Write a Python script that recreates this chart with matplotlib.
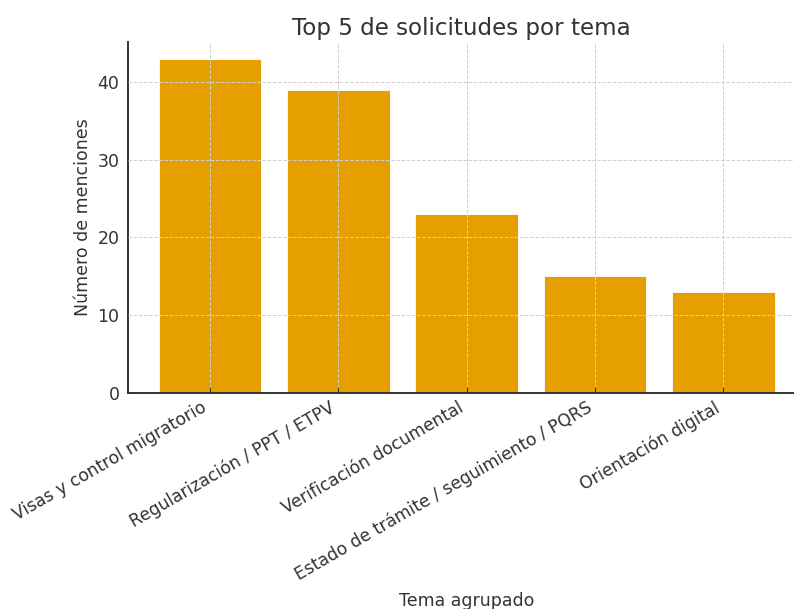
import matplotlib
matplotlib.use('Agg')
import matplotlib.pyplot as plt

temas = ['Visas y control migratorio', 'Regularización / PPT / ETPV',
         'Verificación documental', 'Estado de trámite / seguimiento / PQRS',
         'Orientación digital']
menciones = [43, 39, 23, 15, 13]

plt.rcParams['font.family'] = 'DejaVu Sans'
gris = '#333333'

fig = plt.figure(figsize=(7.94, 6.09), dpi=100)
ax = fig.add_axes([0.161, 0.355, 0.839, 0.576])

pos = list(range(len(temas)))
ax.bar(pos, menciones, width=0.8, color='#E69F00', edgecolor='white', linewidth=0.6, zorder=1)

ax.set_xlim(-0.64, 4.55)
ax.set_ylim(0, 45.15)
ax.set_yticks([0, 10, 20, 30, 40])
ax.set_xticks(pos)
ax.set_xticklabels(temas, rotation=30, ha='right', fontsize=12.3, color=gris)
ax.tick_params(axis='y', labelsize=12.5, labelcolor=gris, length=0, pad=6)
ax.tick_params(axis='x', direction='in', length=4, color=gris, pad=4)

ax.grid(True, linestyle='--', color='#d0d0d0', linewidth=0.7, zorder=2)
ax.set_axisbelow(False)

for lado in ['top', 'right']:
    ax.spines[lado].set_visible(False)
for lado in ['left', 'bottom']:
    ax.spines[lado].set_color(gris)
    ax.spines[lado].set_linewidth(1.4)

ax.set_title('Top 5 de solicitudes por tema', fontsize=16.6, color=gris, pad=5)
ax.set_ylabel('Número de menciones', fontsize=12.5, color=gris)
ax.set_xlabel('Tema agrupado', fontsize=12.5, color=gris)
ax.xaxis.set_label_coords(0.509, -0.567)

fig.savefig('out.png', dpi=100)
